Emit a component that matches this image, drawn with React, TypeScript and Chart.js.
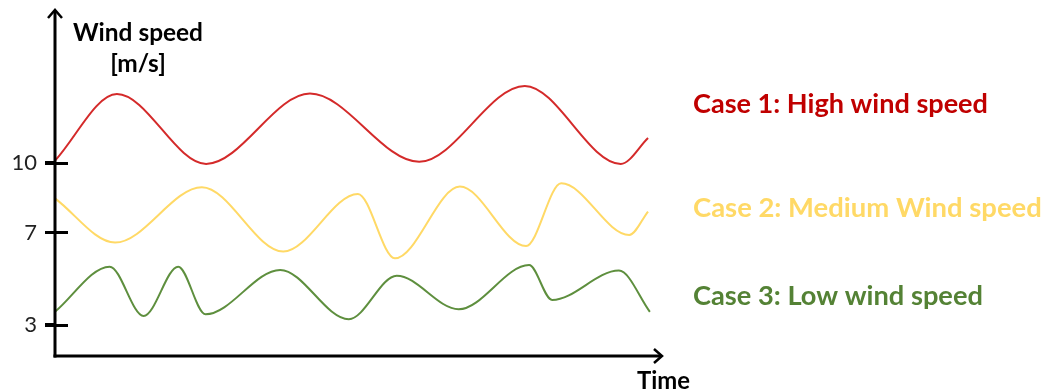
import React, { useEffect, useRef } from "react";
import { Chart, registerables } from "chart.js";

Chart.register(...registerables);

// Time axis positions (0..100) and wind speed values [m/s]
const highX = [0, 10.2, 24.9, 42.0, 60.0, 77.4, 93.2, 97.7];
const highY = [10.1, 12.98, 9.96, 13.0, 10.05, 13.33, 9.96, 11.08];

const mediumX = [0, 9.9, 24.2, 37.6, 49.9, 56.0, 66.7, 77.6, 83.4, 94.6, 97.7];
const mediumY = [8.47, 6.56, 8.95, 6.17, 8.66, 5.88, 8.98, 6.41, 9.12, 6.89, 7.9];

const lowX = [0, 9.0, 14.6, 20.3, 24.8, 37.1, 48.4, 56.3, 66.5, 78.1, 81.9, 92.9, 98.0];
const lowY = [3.57, 5.52, 3.39, 5.52, 3.46, 5.38, 3.25, 5.13, 3.68, 5.59, 4.08, 5.35, 3.57];

const yTicks = [3, 7, 10];
const seriesLabels = ["Case 1: High wind speed", "Case 2: Medium Wind speed", "Case 3: Low wind speed"];
const seriesValuesAtLabel = [12.6, 8.1, 4.28];
const yAxisTitle = ["Wind speed", "[m/s]"];
const xAxisTitle = "Time";

const lineColors = ["#d42a2a", "#ffd966", "#5e8f3e"];
const textColors = ["#c00000", "#ffd966", "#548235"];

const FONT = "Lato, 'Noto Sans', sans-serif";

function pts(xs: number[], ys: number[]) {
  return xs.map((x, i) => ({ x, y: ys[i] }));
}

function fitFont(ctx: CanvasRenderingContext2D, text: string, width: number, weight: string) {
  ctx.font = `${weight} 100px ${FONT}`;
  const w = ctx.measureText(text).width;
  return (100 * width) / w;
}

const overlay = {
  id: "overlay",
  afterDatasetsDraw(chart: any) {
    const ctx: CanvasRenderingContext2D = chart.ctx;
    const { left, right, top, bottom } = chart.chartArea;
    const ys = chart.scales.y;
    ctx.save();
    ctx.strokeStyle = "#000";
    ctx.lineWidth = 3;
    ctx.lineCap = "butt";
    // y axis
    ctx.beginPath();
    ctx.moveTo(left, bottom + 1.5);
    ctx.lineTo(left, top + 1);
    ctx.stroke();
    // x axis
    ctx.beginPath();
    ctx.moveTo(left - 1.5, bottom);
    ctx.lineTo(right - 1, bottom);
    ctx.stroke();
    // arrow heads
    ctx.lineWidth = 2.5;
    ctx.lineJoin = "miter";
    ctx.beginPath();
    ctx.moveTo(left - 7, top + 8);
    ctx.lineTo(left, top);
    ctx.lineTo(left + 7, top + 8);
    ctx.stroke();
    ctx.beginPath();
    ctx.moveTo(right - 8, bottom - 7);
    ctx.lineTo(right, bottom);
    ctx.lineTo(right - 8, bottom + 7);
    ctx.stroke();
    // tick extensions
    ctx.lineWidth = 3;
    yTicks.forEach((v) => {
      const py = Math.round(ys.getPixelForValue(v)) + 0.5;
      ctx.beginPath();
      ctx.moveTo(left - 10, py);
      ctx.lineTo(left + 13, py);
      ctx.stroke();
    });
    // axis titles
    ctx.fillStyle = "#000";
    ctx.textAlign = "center";
    ctx.textBaseline = "alphabetic";
    const s1 = fitFont(ctx, yAxisTitle[0], 130, "bold");
    ctx.font = `bold ${s1}px ${FONT}`;
    ctx.fillText(yAxisTitle[0], left + 83, 41);
    ctx.fillText(yAxisTitle[1], left + 83, 72);
    ctx.textAlign = "left";
    const s2 = fitFont(ctx, xAxisTitle, 53, "bold");
    ctx.font = `bold ${s2}px ${FONT}`;
    ctx.fillText(xAxisTitle, right - 25, bottom + 33);
    // series labels
    const widths = [295, 349, 290];
    ctx.textBaseline = "middle";
    seriesLabels.forEach((t, i) => {
      const s = fitFont(ctx, t, widths[i], "bold");
      ctx.font = `bold ${s}px ${FONT}`;
      ctx.fillStyle = textColors[i];
      ctx.fillText(t, right + 31, ys.getPixelForValue(seriesValuesAtLabel[i]) + 1);
    });
    ctx.restore();
  },
};

export default function App() {
  const ref = useRef<HTMLCanvasElement>(null);
  useEffect(() => {
    document.body.style.margin = "0";
    const ds = [pts(highX, highY), pts(mediumX, mediumY), pts(lowX, lowY)].map((d, i) => ({
      label: seriesLabels[i],
      data: d,
      borderColor: lineColors[i],
      borderWidth: 2,
      pointRadius: 0,
      fill: false,
      cubicInterpolationMode: "monotone" as const,
    }));
    const chart = new Chart(ref.current!, {
      type: "line",
      data: { datasets: ds },
      options: {
        responsive: false,
        animation: false,
        layout: { padding: { left: 0, right: 385, top: 10, bottom: 34 } },
        plugins: { legend: { display: false }, tooltip: { enabled: false } },
        scales: {
          x: { type: "linear", min: 0, max: 100, display: false },
          y: {
            type: "linear",
            min: 1.66,
            max: 16.61,
            afterFit: (s: any) => {
              s.width = 55;
              s.paddingTop = 0;
              s.paddingBottom = 0;
            },
            afterBuildTicks: (s: any) => {
              s.ticks = yTicks.map((v) => ({ value: v }));
            },
            border: { display: false },
            grid: { drawOnChartArea: false, drawTicks: true, tickLength: 10, color: "#000", lineWidth: 3 },
            ticks: { color: "#222", padding: 8, font: { family: FONT, size: 22 } },
          },
        },
      },
      plugins: [overlay],
    });
    return () => chart.destroy();
  }, []);
  return <canvas ref={ref} width={1047} height={390} style={{ display: "block" }} />;
}
